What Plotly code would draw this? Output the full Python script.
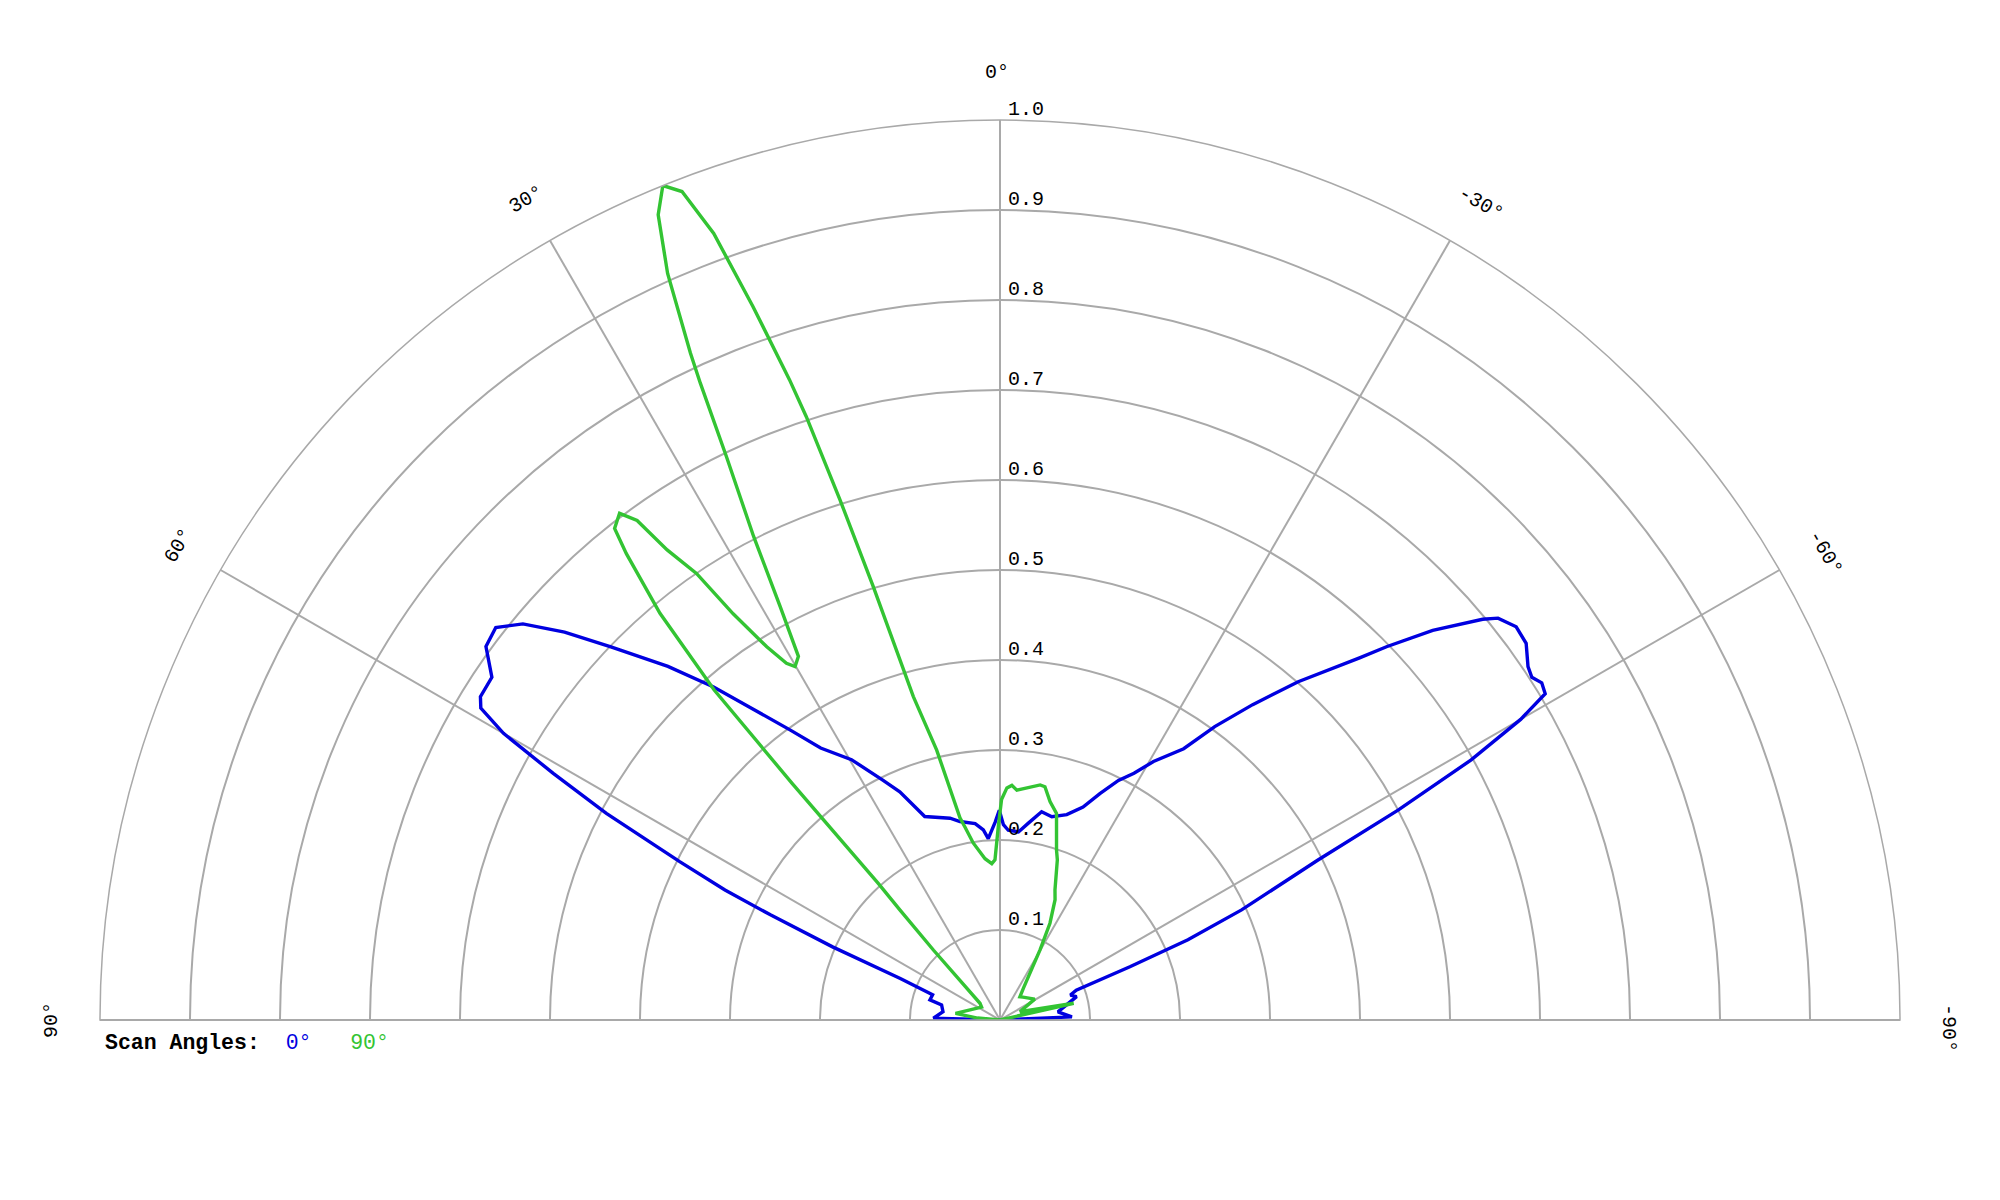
import math
import plotly.graph_objects as go

# ---------------- data ----------------
theta_scan0 = [-90, -87.5, -82, -73, -70.5, -68.6, -67.7, -66.9, -65.5, -63.3, -62.2, -61.1,
               -60.0, -59.1, -58.1, -57.2, -56.2, -54.4, -52.7, -51.1, -50.3, -48.0, -46.0,
               -44.8, -41.4, -38.7, -36.2, -34.1, -30.7, -28.5, -26.3, -23.8, -21.3, -18.0,
               -14.3, -11.3, -8.2, -5.6, -2.5, -1.0, 0.2, 1.4, 3.7, 5.0, 7.2, 11.4, 13.9,
               20.3, 23.7, 26.1, 29.7, 33.4, 35.9, 38.5, 40.7, 43.2, 46.2, 48.3, 50.3, 52.1,
               54.0, 56.0, 58.1, 59.0, 60.0, 61.1, 62.3, 63.7, 64.7, 65.4, 66.4, 67.4, 69.4,
               74.0, 75.6, 81.7, 88.5, 90]
r_scan0 = [0.0, 0.080, 0.065, 0.089, 0.083, 0.091, 0.156, 0.227, 0.295, 0.395, 0.500, 0.598,
           0.668, 0.706, 0.709, 0.703, 0.706, 0.719, 0.721, 0.711, 0.697, 0.647, 0.597,
           0.567, 0.501, 0.449, 0.404, 0.364, 0.334, 0.312, 0.297, 0.275, 0.254, 0.240,
           0.233, 0.236, 0.221, 0.210, 0.211, 0.217, 0.233, 0.220, 0.202, 0.212, 0.220, 0.225, 0.231,
           0.241, 0.277, 0.297, 0.333, 0.362, 0.398, 0.442, 0.488, 0.539, 0.599, 0.648, 0.689, 0.710,
           0.706, 0.681, 0.680, 0.673, 0.637, 0.567, 0.494, 0.397, 0.338, 0.280, 0.203, 0.120, 0.080,
           0.081, 0.067, 0.064, 0.074, 0.0]

theta_scan90 = [-90, -77.2, -67.5, -59, -45, -40.6, -36.3, -29.7, -27.3, -24.6, -22.9, -19.7,
                -18.4, -15.3, -12.9, -10.9, -9.7, -4.2, -2.9, -1.7, -0.4, 0.5, 1.8, 3.0, 5.3,
                8.6, 10.3, 11.2, 13.2, 15.0, 16.3, 17.1, 17.8, 18.2, 19.1, 20.0, 21.0, 22.0,
                23.0, 24.0, 24.9, 25.2, 25.9, 27.0, 28.0, 29.0, 30.1, 30.9, 32.0, 33.3, 34.2,
                35.3, 36.0, 36.9, 38.1, 38.7, 39.9, 40.9, 41.3, 41.7, 42.3, 43.6, 50.1, 55,
                81.5, 85, 90]
r_scan90 = [0.0, 0.084, 0.024, 0.045, 0.036, 0.034, 0.044, 0.090, 0.121, 0.147, 0.157, 0.189,
            0.199, 0.238, 0.249, 0.264, 0.265, 0.256, 0.261, 0.258, 0.245, 0.215, 0.178, 0.174, 0.180,
            0.199, 0.218, 0.229, 0.308, 0.372, 0.502, 0.605, 0.704, 0.749, 0.839, 0.930, 0.986, 1.0,
            0.972, 0.908, 0.817, 0.782, 0.696, 0.603, 0.520, 0.462, 0.454, 0.462, 0.489, 0.540, 0.600,
            0.640, 0.686, 0.704, 0.694, 0.664, 0.589, 0.485, 0.350, 0.203, 0.165, 0.107, 0.029, 0.025,
            0.050, 0.025, 0.0]

radial_ticks = [0.1, 0.2, 0.3, 0.4, 0.5, 0.6, 0.7, 0.8, 0.9, 1.0]
angle_ticks = [-90, -60, -30, 0, 30, 60, 90]
angle_labels = ["-90°", "-60°", "-30°", "0°", "30°", "60°", "90°"]
series_names = ["0°", "90°"]
series_colors = ["#0000e0", "#33c433"]

# ---------------- layout geometry ----------------
W, H = 2000, 1200
OFF = 8.0                                   # page body margin compensation
CX, CY, R = 1000.0 - OFF, 1020.0 - OFF, 900.0
GRID = "#a9a9a9"
MONO = "Liberation Mono, Courier New, monospace"

fig = go.Figure()
for th, rr, name, col in [(theta_scan0, r_scan0, series_names[0], series_colors[0]),
                          (theta_scan90, r_scan90, series_names[1], series_colors[1])]:
    fig.add_trace(go.Scatterpolar(theta=th, r=rr, mode="lines", name=name,
                                  line=dict(color=col, width=3.4), showlegend=False))

fig.update_layout(
    width=W, height=H,
    margin=dict(l=0, r=0, t=0, b=0),
    paper_bgcolor="white",
    polar=dict(
        domain=dict(x=[(CX - R) / W, (CX + R) / W], y=[1 - CY / H, 1 - (CY - R) / H]),
        sector=[0, 180],
        bgcolor="white",
        radialaxis=dict(range=[0, 1], tickmode="array", tickvals=radial_ticks,
                        showticklabels=False, ticks="", showline=False,
                        gridcolor=GRID, gridwidth=1.5),
        angularaxis=dict(rotation=90, direction="counterclockwise", thetaunit="degrees",
                         tickmode="array", tickvals=angle_ticks, showticklabels=False,
                         ticks="", showline=True, linecolor=GRID, linewidth=1.5,
                         gridcolor=GRID, gridwidth=1.5),
    ),
)

ann = []
# radial tick labels next to the 0° spoke
for v in radial_ticks:
    ypx = CY - v * R
    ann.append(dict(x=(CX + 6) / W, y=1 - ypx / H, xref="paper", yref="paper",
                    text=f"{v:.1f}", showarrow=False, xanchor="left", yanchor="bottom",
                    font=dict(family=MONO, size=20, color="black"), yshift=-3))

# angular labels, rotated tangentially
RL = 948.0
for a, lab in zip(angle_ticks, angle_labels):
    t = math.radians(a)
    xpx = CX - RL * math.sin(t)
    ypx = CY - RL * math.cos(t)
    if a < 0:  # small shift along reading direction
        xpx += 8 * math.cos(t)
        ypx -= 8 * math.sin(t)
    elif a == 0:
        xpx -= 3
    ann.append(dict(x=xpx / W, y=1 - ypx / H, xref="paper", yref="paper", text=lab,
                    showarrow=False, xanchor="center", yanchor="middle", textangle=-a,
                    font=dict(family=MONO, size=20, color="black")))

# legend line
sp = "\u00a0"
legend_text = ("<b>Scan Angles:</b>" + sp * 2 +
               f"<span style='color:{series_colors[0]}'>{series_names[0]}</span>" + sp * 3 +
               f"<span style='color:{series_colors[1]}'>{series_names[1]}</span>")
ann.append(dict(x=(103 - OFF) / W, y=1 - (1043 - OFF) / H, xref="paper", yref="paper",
                text=legend_text, showarrow=False, xanchor="left", yanchor="middle",
                font=dict(family=MONO, size=21.5, color="black")))

fig.update_layout(annotations=ann)
fig.write_html("out.html")
